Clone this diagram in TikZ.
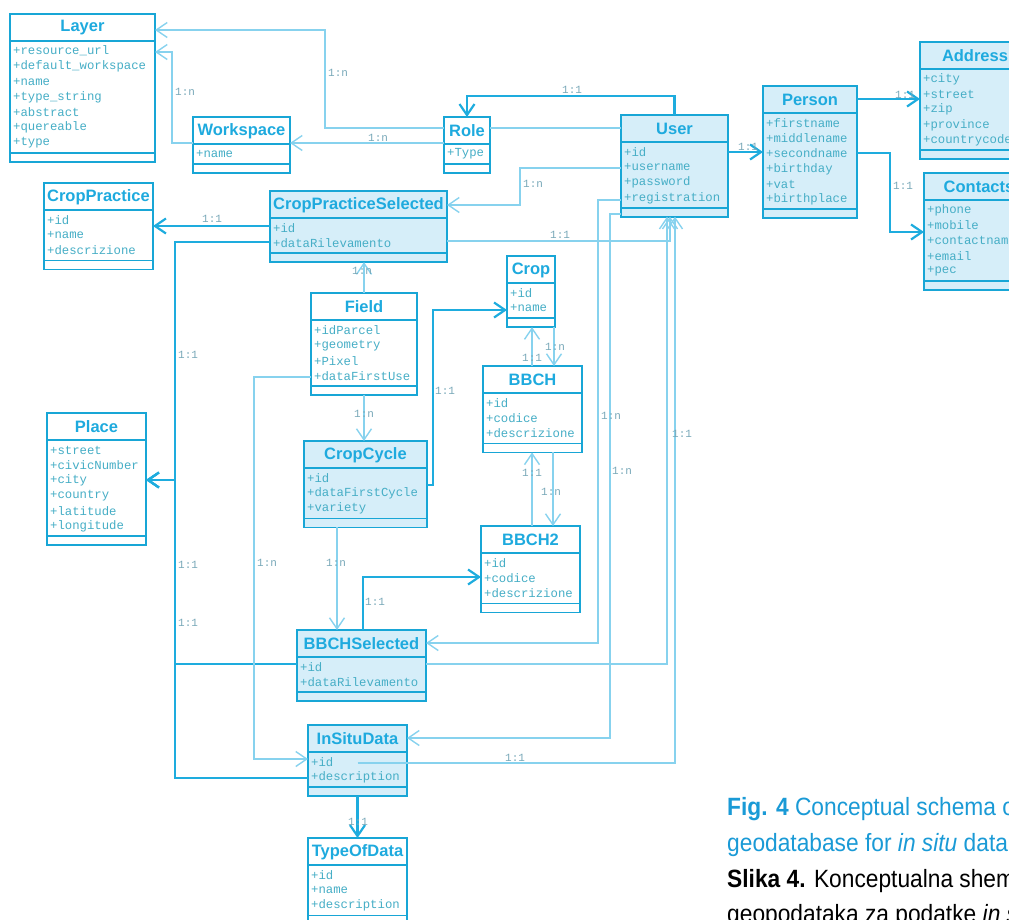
\documentclass[tikz,border=0pt]{standalone}
\usepackage{fontspec}
\setmonofont{Liberation Mono}
\newfontfamily\headfont{Liberation Sans}
\newfontfamily\capfont[FakeStretch=0.91]{Liberation Sans}
\usetikzlibrary{arrows.meta}
\definecolor{boxc}{RGB}{24,166,214}
\definecolor{headc}{RGB}{30,170,222}
\definecolor{fillc}{RGB}{214,238,249}
\definecolor{attrc}{RGB}{70,174,198}
\definecolor{thickc}{RGB}{30,172,222}
\definecolor{thinc}{RGB}{135,210,238}
\definecolor{multc}{RGB}{120,168,184}
\definecolor{capc}{RGB}{26,154,214}
% class box: name, x, y (top), width, fill, title, attributes
\newcommand{\umlclass}[7]{%
  \foreach \a [count=\n] in {#7} {\xdef\attrcount{\n}}%
  \pgfmathsetmacro\boxh{40.5+15.3*\attrcount}%
  \node[classbox,fill=#5,minimum width=#4pt,minimum height=\boxh pt,anchor=north west] (#1) at (#2,#3) {};
  \draw[classline] ([yshift=-27pt]#1.north west) -- ([yshift=-27pt]#1.north east);
  \draw[classline] ([yshift=9pt]#1.south west) -- ([yshift=9pt]#1.south east);
  \node[classtitle] (#1-title) at ([yshift=-14pt]#1.north) {#6};
  \foreach \a [count=\i] in {#7}
    \node[classattr] (#1-\i) at ([xshift=3pt,yshift={-37pt-15.3pt*(\i-1)}]#1.north west) {\a};
}

\begin{document}
\begin{tikzpicture}[x=1pt,y=-1pt,
  classbox/.style={draw=boxc,line width=1.8pt,inner sep=0pt,outer sep=0pt},
  classline/.style={boxc,line width=1.8pt},
  classtitle/.style={font=\headfont\bfseries\fontsize{16.5}{18}\selectfont,text=headc,inner sep=0pt},
  classattr/.style={anchor=west,font=\ttfamily\fontsize{12.3}{14}\selectfont,text=attrc,inner sep=0pt},
  navthick/.style={draw=thickc,line width=2.2pt,->},
  navthin/.style={draw=thinc,line width=1.4pt,->},
  mult/.style={anchor=west,font=\ttfamily\fontsize{11}{12}\selectfont,text=multc,inner sep=0pt},
  captext/.style={anchor=base west,font=\capfont\fontsize{25}{30}\selectfont,inner sep=0pt},
  >={Straight Barb[length=11pt,width=15pt]}]
  \useasboundingbox (0,0) rectangle (1009,919);
  \clip (0,0) rectangle (1009,919);

  \umlclass{layer}{10}{14}{145}{white}{Layer}{+resource\_url,+default\_workspace,+name,+type\_string,+abstract,+quereable,+type}
  \umlclass{workspace}{193}{117}{97}{white}{Workspace}{+name}
  \umlclass{croppractice}{44}{183}{109}{white}{CropPractice}{+id,+name,+descrizione}
  \umlclass{cpsel}{270}{191}{177}{fillc}{CropPracticeSelected}{+id,+dataRilevamento}
  \umlclass{role}{444}{117}{46}{white}{Role}{+Type}
  \umlclass{user}{621}{115}{107}{fillc}{User}{+id,+username,+password,+registration}
  \umlclass{person}{763}{86}{94}{fillc}{Person}{+firstname,+middlename,+secondname,+birthday,+vat,+birthplace}
  \umlclass{address}{920}{42}{110}{fillc}{Address}{+city,+street,+zip,+province,+countrycode}
  \umlclass{contacts}{924}{173}{110}{fillc}{Contacts}{+phone,+mobile,+contactname,+email,+pec}
  \umlclass{crop}{507}{256}{48}{white}{Crop}{+id,+name}
  \umlclass{field}{311}{293}{106}{white}{Field}{+idParcel,+geometry,+Pixel,+dataFirstUse}
  \umlclass{bbch}{483}{366}{99}{white}{BBCH}{+id,+codice,+descrizione}
  \umlclass{place}{47}{413}{99}{white}{Place}{+street,+civicNumber,+city,+country,+latitude,+longitude}
  \umlclass{cropcycle}{304}{441}{123}{fillc}{CropCycle}{+id,+dataFirstCycle,+variety}
  \umlclass{bbch2}{481}{526}{99}{white}{BBCH2}{+id,+codice,+descrizione}
  \umlclass{bbchsel}{297}{630}{129}{fillc}{BBCHSelected}{+id,+dataRilevamento}
  \umlclass{insitu}{308}{725}{99}{fillc}{InSituData}{+id,+description}
  \umlclass{typeofdata}{308}{838}{99}{white}{TypeOfData}{+id,+name,+description}

  % top row
  \draw[navthin,-] (user.west |- 0,128) -- (role.east |- 0,128);
  \draw[navthin] (role.west |- 0,128) -| (325,30) -- (layer.east |- 0,30);
  \draw[navthin] (workspace.west |- 0,143) -| (172,52) -- (layer.east |- 0,52);
  \draw[navthin] (role.west |- 0,143) -- (workspace.east |- 0,143);
  \draw[navthick] (user.north) -- (user.north |- 0,96) -| (role.north);
  \draw[navthick] (user.east |- 0,152) -- (person.west |- 0,152);
  \draw[navthick] (person.east |- 0,99) -- (address.west |- 0,99);
  \draw[navthick] (person.east |- 0,153) -| (890,232) -- (contacts.west |- 0,232);

  % user and the selections
  \draw[navthin] (user.west |- 0,168) -| (520,205) -- (cpsel.east |- 0,205);
  \draw[navthin] (user.west |- 0,200) -| (598,643) -- (bbchsel.east |- 0,643);
  \draw[navthin] (user.west |- 0,214) -| (610,738) -- (insitu.east |- 0,738);
  \draw[navthin] (cpsel.east |- 0,241) -| (user.south -| 670,0);
  \draw[navthin] (bbchsel.east |- 0,664) -| (user.south -| 667,0);
  \draw[navthin] (insitu.center |- 0,763) -| (user.south -| 675,0);

  % place
  \draw[navthick] (cpsel.west |- 0,242) -| (175,480) -- (place.east |- 0,480);
  \draw[navthick] (bbchsel.west |- 0,664) -| (175,480) -- (place.east |- 0,480);
  \draw[navthick] (insitu.west |- 0,778) -| (175,480) -- (place.east |- 0,480);
  \draw[navthick] (cpsel.west |- 0,226) -- (croppractice.east |- 0,226);

  % field, crop cycle, bbch
  \draw[navthin] (field.north) -- (field.north |- cpsel.south);
  \draw[navthin] (field.south) -- (field.south |- cropcycle.north);
  \draw[navthin] (field.west |- 0,377) -| (254,759) -- (insitu.west |- 0,759);
  \draw[navthick] (cropcycle.east |- 0,485) -| (433,310) -- (crop.west |- 0,310);
  \draw[navthin] (cropcycle.south -| 337,0) -- (bbchsel.north -| 337,0);
  \draw[navthick] (bbchsel.north -| 363,0) |- (bbch2.west |- 0,577);
  \draw[navthin] (bbch.north -| 532,0) -- (crop.south -| 532,0);
  \draw[navthin] (crop.south -| 554,0) -- (bbch.north -| 554,0);
  \draw[navthin] (bbch2.north -| 532,0) -- (bbch.south -| 532,0);
  \draw[navthin] (bbch.south -| 553,0) -- (bbch2.north -| 553,0);
  \draw[navthick] (insitu.south) -- (typeofdata.north);

  % multiplicities
  \foreach \x/\y/\t [count=\i] in {328/73/1:n, 175/92/1:n, 562/90/1:1, 368/138/1:n,
      738/147/1:1, 895/95/1:1, 893/186/1:1, 523/184/1:n, 202/219/1:1, 550/235/1:1,
      352/271/1:n, 178/355/1:1, 354/414/1:n, 435/391/1:1, 522/358/1:1, 545/347/1:n,
      601/416/1:n, 672/434/1:1, 612/471/1:n, 522/473/1:1, 541/492/1:n, 178/565/1:1,
      257/563/1:n, 326/563/1:n, 365/602/1:1, 178/623/1:1, 505/758/1:1, 348/822/1:1}
    \node[mult] (m\i) at (\x,\y) {\t};

  \node[captext,text=capc] (fig) at (727,815) {{\bfseries Fig. 4} Conceptual schema of};
  \node[captext,text=capc] (fig2) at (727,851) {geodatabase for \textit{in situ} data};
  \node[captext,text=black] (slika) at (727,887) {{\bfseries Slika 4.} Konceptualna shema};
  \node[captext,text=black] (slika2) at (727,922) {geopodataka za podatke \textit{in situ}};
\end{tikzpicture}
\end{document}
